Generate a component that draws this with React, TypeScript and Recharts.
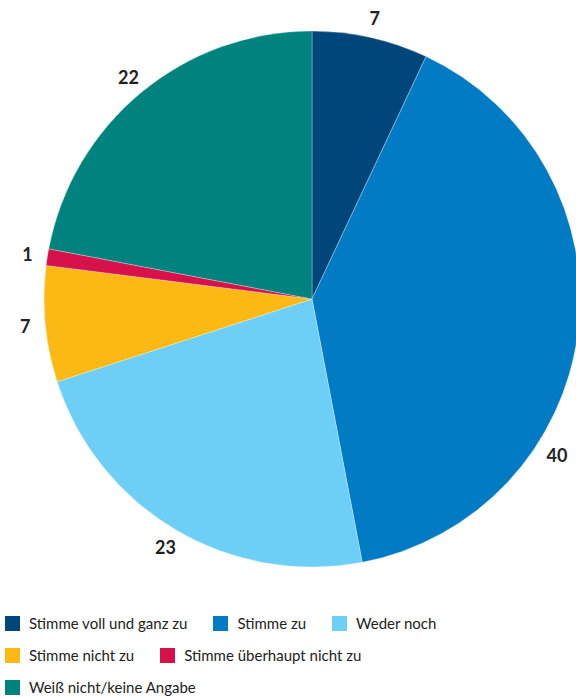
import React from "react";
import { PieChart, Pie, Cell, Legend } from "recharts";

const categories = [
  "Stimme voll und ganz zu",
  "Stimme zu",
  "Weder noch",
  "Stimme nicht zu",
  "Stimme überhaupt nicht zu",
  "Weiß nicht/keine Angabe",
];
const values = [7, 40, 23, 7, 1, 22];
const colors = ["#00467a", "#007bc4", "#6dcff6", "#fdb913", "#d7114a", "#00827f"];
const legendRows = [3, 2, 1];

const data = categories.map((name, i) => ({ name, value: values[i] }));

const RADIAN = Math.PI / 180;
const WIDTH = 576;
const HEIGHT = 697;
const FONT = "Lato, 'Open Sans', sans-serif";

const renderLabel = (props: any) => {
  const { cx, cy, midAngle, outerRadius, value } = props;
  const r = outerRadius + 20;
  let x = cx + r * Math.cos(-midAngle * RADIAN);
  let y = cy + r * Math.sin(-midAngle * RADIAN);
  // keep labels inside the canvas, sliding along the label circle
  const maxX = WIDTH - 19;
  if (x > maxX) {
    const sign = y >= cy ? 1 : -1;
    x = maxX;
    y = cy + sign * (Math.sqrt(Math.max(0, r * r - (x - cx) * (x - cx))) + 5);
  }
  return (
    <text
      x={x}
      y={y}
      fill="#222"
      fontSize={18}
      fontWeight={700}
      fontFamily={FONT}
      textAnchor="middle"
      dominantBaseline="central"
    >
      {value}
    </text>
  );
};

const renderLegend = () => {
  let idx = 0;
  const rows = legendRows.map((n) => {
    const items = categories.slice(idx, idx + n).map((c, j) => ({ name: c, color: colors[idx + j] }));
    idx += n;
    return items;
  });
  return (
    <div style={{ fontFamily: FONT, fontSize: 15, color: "#222" }}>
      {rows.map((row, ri) => (
        <div key={ri} style={{ display: "flex", alignItems: "center", height: 32 }}>
          {row.map((it) => (
            <div key={it.name} style={{ display: "flex", alignItems: "center", marginRight: 26 }}>
              <span
                style={{ display: "inline-block", width: 15, height: 15, background: it.color, marginRight: 9 }}
              />
              <span>{it.name}</span>
            </div>
          ))}
        </div>
      ))}
    </div>
  );
};

export default function App() {
  return (
    <div style={{ position: "absolute", left: 0, top: 0, width: WIDTH, height: HEIGHT, background: "#fff" }}>
      <PieChart width={WIDTH} height={HEIGHT} margin={{ top: 0, right: 0, bottom: 0, left: 0 }}>
        <Pie
          data={data}
          dataKey="value"
          nameKey="name"
          cx={312}
          cy={299}
          outerRadius={268}
          startAngle={90}
          endAngle={-270}
          stroke="#ffffff"
          strokeWidth={0.3}
          label={renderLabel}
          labelLine={false}
          isAnimationActive={false}
        >
          {data.map((d, i) => (
            <Cell key={d.name} fill={colors[i]} />
          ))}
        </Pie>
        <Legend
          verticalAlign="bottom"
          align="left"
          content={renderLegend}
          wrapperStyle={{ left: 5, bottom: -6, width: 570 }}
        />
      </PieChart>
    </div>
  );
}
